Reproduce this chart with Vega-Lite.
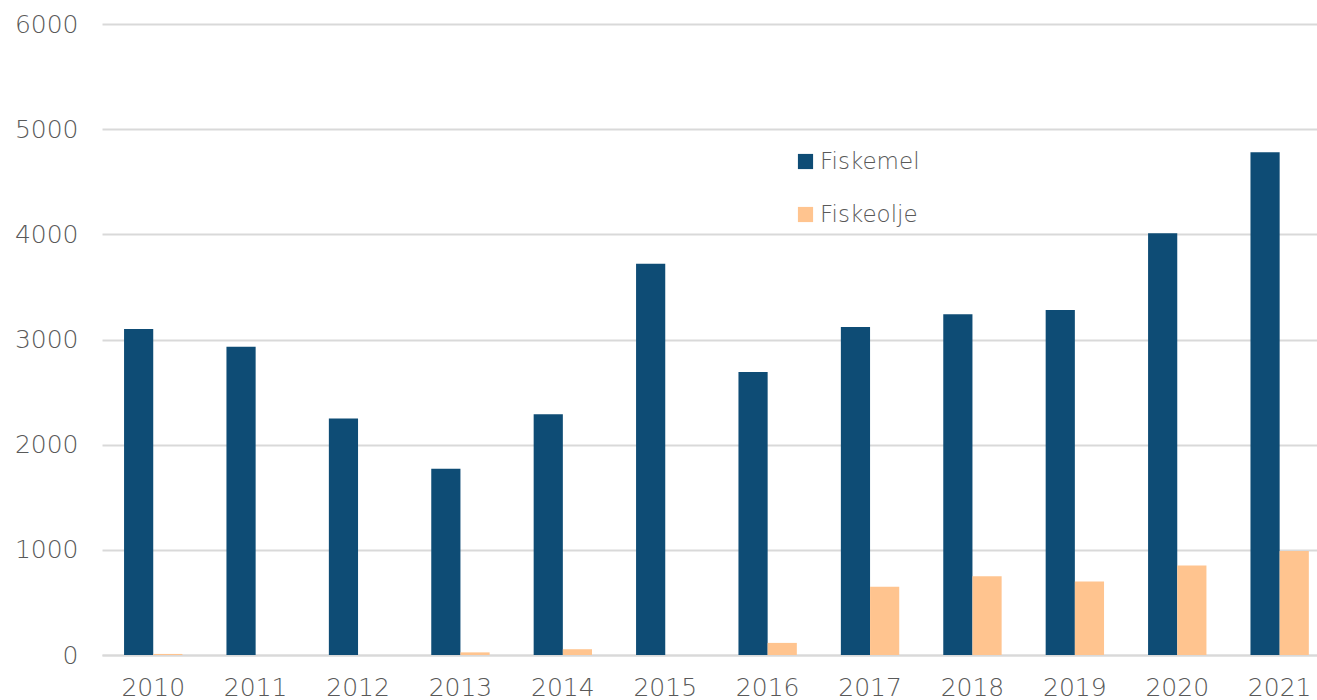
{
  "$schema": "https://vega.github.io/schema/vega-lite/v6.json",
  "width": 1317,
  "height": 700,
  "autosize": {"type": "fit", "contains": "padding"},
  "padding": {"left": 14, "top": 12, "right": 0, "bottom": 0},
  "background": "white",
  "config": {"view": {"stroke": null}, "font": "DejaVu Sans"},
  "data": {"values": [
    {"year": "2010", "series": "Fiskemel", "value": 3100},
    {"year": "2010", "series": "Fiskeolje", "value": 10},
    {"year": "2011", "series": "Fiskemel", "value": 2930},
    {"year": "2011", "series": "Fiskeolje", "value": 0},
    {"year": "2012", "series": "Fiskemel", "value": 2250},
    {"year": "2012", "series": "Fiskeolje", "value": 0},
    {"year": "2013", "series": "Fiskemel", "value": 1770},
    {"year": "2013", "series": "Fiskeolje", "value": 25},
    {"year": "2014", "series": "Fiskemel", "value": 2290},
    {"year": "2014", "series": "Fiskeolje", "value": 55},
    {"year": "2015", "series": "Fiskemel", "value": 3720},
    {"year": "2015", "series": "Fiskeolje", "value": 0},
    {"year": "2016", "series": "Fiskemel", "value": 2690},
    {"year": "2016", "series": "Fiskeolje", "value": 115},
    {"year": "2017", "series": "Fiskemel", "value": 3120},
    {"year": "2017", "series": "Fiskeolje", "value": 650},
    {"year": "2018", "series": "Fiskemel", "value": 3240},
    {"year": "2018", "series": "Fiskeolje", "value": 750},
    {"year": "2019", "series": "Fiskemel", "value": 3280},
    {"year": "2019", "series": "Fiskeolje", "value": 700},
    {"year": "2020", "series": "Fiskemel", "value": 4010},
    {"year": "2020", "series": "Fiskeolje", "value": 850},
    {"year": "2021", "series": "Fiskemel", "value": 4780},
    {"year": "2021", "series": "Fiskeolje", "value": 990}
  ]},
  "mark": {"type": "bar"},
  "encoding": {
    "x": {
      "field": "year", "type": "nominal",
      "scale": {"paddingInner": 0.43, "paddingOuter": 0.1475, "align": 0.73},
      "axis": {"title": null, "labelAngle": 0, "labelFontSize": 25, "labelFontWeight": 300, "labelColor": "#595959", "labelPadding": 20, "ticks": false, "domainColor": "#d9d9d9", "domainWidth": 2}
    },
    "xOffset": {"field": "series", "type": "nominal", "sort": ["Fiskemel", "Fiskeolje"]},
    "y": {
      "field": "value", "type": "quantitative",
      "scale": {"domain": [0, 6000], "nice": false},
      "axis": {"title": null, "format": "d", "values": [0, 1000, 2000, 3000, 4000, 5000, 6000], "labelFontSize": 25, "labelFontWeight": 300, "labelColor": "#595959", "labelPadding": 24, "ticks": false, "domain": false, "gridColor": "#d9d9d9", "gridWidth": 2}
    },
    "color": {
      "field": "series", "type": "nominal",
      "scale": {"domain": ["Fiskemel", "Fiskeolje"], "range": ["#0E4C75", "#FFC48F"]},
      "legend": {"title": null, "orient": "none", "legendX": 692, "legendY": 126, "symbolType": "square", "symbolSize": 230, "symbolStrokeWidth": 0, "labelFontSize": 23, "labelFontWeight": 300, "labelColor": "#595959", "rowPadding": 29, "labelOffset": 3}
    }
  }
}
